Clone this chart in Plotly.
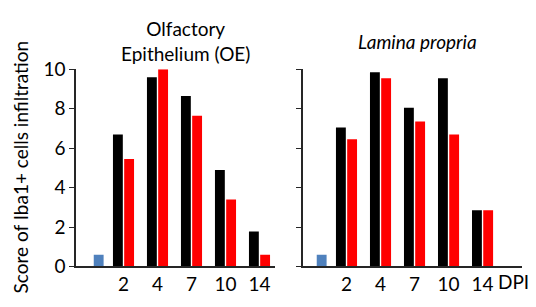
import plotly.graph_objects as go

days = ["2", "4", "7", "10", "14"]
groups = [1, 2, 3, 4, 5]
control_pos = [0.27]

oe_control = [0.6]
oe_black = [6.7, 9.6, 8.65, 4.9, 1.78]
oe_red = [5.45, 10.0, 7.65, 3.4, 0.6]

lp_control = [0.6]
lp_black = [7.05, 9.85, 8.05, 9.55, 2.85]
lp_red = [6.45, 9.55, 7.35, 6.7, 2.85]

y_ticks = [0, 2, 4, 6, 8, 10]

FONT = "Lato"
FS = 19
BLACK = "#000000"
RED = "#FF0000"
BLUE = "#4F81BD"
W = 0.29

fig = go.Figure()


def add_panel(ctrl, blk, red, xa, ya):
    fig.add_trace(go.Bar(x=control_pos, y=ctrl, width=W, marker=dict(color=BLUE, line=dict(width=0)),
                         xaxis=xa, yaxis=ya, showlegend=False))
    fig.add_trace(go.Bar(x=groups, y=blk, width=W, offset=-0.31, marker=dict(color=BLACK, line=dict(width=0)),
                         xaxis=xa, yaxis=ya, showlegend=False))
    fig.add_trace(go.Bar(x=groups, y=red, width=W, offset=0.02, marker=dict(color=RED, line=dict(width=0)),
                         xaxis=xa, yaxis=ya, showlegend=False))


add_panel(oe_control, oe_black, oe_red, "x", "y")
add_panel(lp_control, lp_black, lp_red, "x2", "y2")

axis_color = "#262626"
xcommon = dict(showgrid=False, zeroline=False, showline=True, linecolor=axis_color, linewidth=1.5,
               tickmode="array", tickvals=groups, ticktext=days, ticks="",
               tickfont=dict(family=FONT, size=FS, color="#000"), fixedrange=True)
ycommon = dict(showgrid=False, zeroline=False, showline=True, linecolor=axis_color, linewidth=1.5,
               range=[0, 10], tickmode="array", tickvals=y_ticks, ticks="outside", ticklen=5,
               tickcolor=axis_color, tickwidth=1.2, domain=[0.104, 0.798],
               tickfont=dict(family=FONT, size=FS, color="#000"))

fig.update_layout(
    width=536, height=307,
    margin=dict(l=0, r=0, t=0, b=0),
    paper_bgcolor="white", plot_bgcolor="white",
    barmode="overlay",
    font=dict(family=FONT, size=FS, color="#000"),
    xaxis=dict(xcommon, domain=[76 / 536, 275 / 536], range=[-0.397, 5.456], anchor="y"),
    yaxis=dict(ycommon, anchor="x"),
    xaxis2=dict(xcommon, domain=[303 / 536, 522 / 536], range=[-0.279, 6.16], anchor="y2"),
    yaxis2=dict(ycommon, anchor="x2", showticklabels=False),
)

fig.add_annotation(text="Score of Iba1+ cells infiltration", xref="paper", yref="paper",
                   x=20 / 536, y=1 - 168 / 307, textangle=-90, showarrow=False,
                   xanchor="center", yanchor="middle", font=dict(family=FONT, size=FS))
fig.add_annotation(text="Olfactory<br>Epithelium (OE)", xref="paper", yref="paper",
                   x=185 / 536, y=1 - 31 / 307, showarrow=False, xanchor="center", yanchor="middle",
                   font=dict(family=FONT, size=FS))
fig.add_annotation(text="<i>Lamina propria</i>", xref="paper", yref="paper",
                   x=417 / 536, y=1 - 32 / 307, showarrow=False, xanchor="center", yanchor="middle",
                   font=dict(family=FONT, size=FS))
fig.add_annotation(text="DPI", xref="paper", yref="paper", x=513 / 536, y=1 - 291 / 307, showarrow=False,
                   xanchor="center", yanchor="middle", font=dict(family=FONT, size=FS))

fig.write_html("out.html", config={"displayModeBar": False},
               post_script="document.body.style.margin='0';document.body.style.overflow='hidden';")
